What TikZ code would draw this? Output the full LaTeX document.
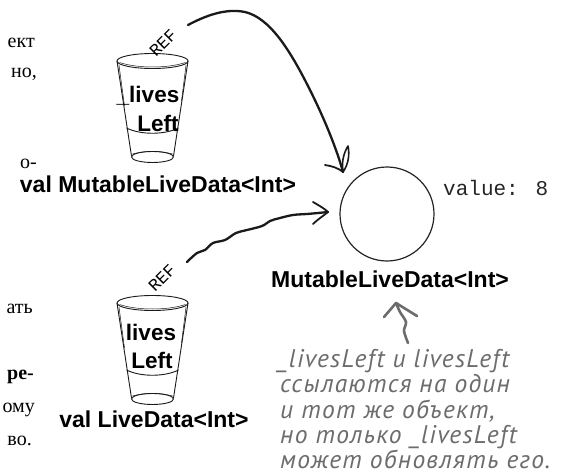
\documentclass[tikz,border=0pt]{standalone}
\usepackage{fontspec}
\setmainfont{Liberation Serif}
\newfontfamily\labelsans{Liberation Sans}
\newfontfamily\typewriter{Liberation Mono}
\newfontfamily\scribble{PT Sans}[LetterSpace=5]
\definecolor{notegray}{HTML}{6C6C6C}
\definecolor{inkblack}{HTML}{1A1A1A}

\tikzset{
  typelabel/.style={font=\labelsans\bfseries\fontsize{23}{26}\selectfont, inner sep=0pt, anchor=base},
  varname/.style={font=\labelsans\bfseries\fontsize{22.5}{26}\selectfont, inner sep=0pt, anchor=base},
  reftag/.style={font=\typewriter\fontsize{17}{17}\selectfont, inner sep=0pt, rotate=45},
  columntext/.style={font=\fontsize{20}{22}\selectfont, inner sep=0pt, anchor=base east},
  notetext/.style={font=\scribble\itshape\fontsize{25.5}{27}\selectfont, text=notegray, inner sep=0pt, anchor=base west},
  valuetext/.style={font=\typewriter\fontsize{21}{22}\selectfont, inner sep=0pt, anchor=base west, text=black!85},
  wire/.style={draw=inkblack, line width=2.3pt, line cap=round, line join=round},
  glassline/.style={draw=inkblack, line width=0.9pt},
  sketchline/.style={draw=inkblack, line width=0.5pt},
  notearrow/.style={draw=notegray, line width=2.6pt, line cap=round, line join=round},
  glass/.pic={
    % rim, sides, liquid level and base of a drinking glass
    \draw[glassline] (0,0) ellipse [x radius=35.5, y radius=7.5];
    \draw[sketchline] (-33,1.5) .. controls (-15,7.5) and (15,7.5) .. (33,1.5);
    \draw[glassline] (-35.5,0) -- (-21,95);
    \draw[glassline] (35.5,0) -- (21,95);
    \draw[sketchline] (-33.5,4) -- (-28,45);
    \draw[sketchline] (33.5,4) -- (29,40);
    \draw[glassline] (-26,67) .. controls (-12,74) and (12,74) .. (26,67);
    \draw[glassline] (0,96) ellipse [x radius=21, y radius=5.5];
    \draw[sketchline] (-20,93) .. controls (-8,89.5) and (8,89.5) .. (20,93);
  }
}

\begin{document}
\begin{tikzpicture}[x=1pt,y=-1pt]
\useasboundingbox (0,0) rectangle (565,476);
\fill[white] (0,0) rectangle (565,476);

% fragments of the neighbouring text column
\node[columntext] (c1) at (35,48) {ект};
\node[columntext] (c2) at (37,78) {но,};
\node[columntext] (c3) at (37,168) {о-};
\node[columntext] (c4) at (33,313) {ать};
\node[columntext, font=\bfseries\fontsize{20}{22}\selectfont] (c5) at (34,379) {ре-};
\node[columntext] (c6) at (35,412) {ому};
\node[columntext] (c7) at (32,445) {во.};

% the two reference variables
\coordinate (rimA) at (152.5,61);
\coordinate (rimB) at (152.5,303);
\pic at (rimA) {glass};
\pic at (rimB) {glass};
\node[reftag] (refTagA) at (163,43) {REF};
\node[reftag] (refTagB) at (162,278) {REF};
\node[varname] (varA1) at (148,103) {\_lives};
\node[varname] (varA2) at (158,132) {Left};
\node[varname] (varB1) at (151,340) {lives};
\node[varname] (varB2) at (152,368) {Left};
\node[typelabel] (typeA) at (158,192) {val MutableLiveData<Int>};
\node[typelabel] (typeB) at (154,427) {val LiveData<Int>};

% the shared object
\node[circle, draw=black!85, line width=1.2pt, minimum size=94pt, inner sep=0pt] (obj) at (387,214) {};
\node[valuetext] (val) at (443,195) {value: 8};
\node[typelabel] (typeObj) at (390,287) {MutableLiveData<Int>};

% reference from _livesLeft
\coordinate (refA) at (188,25);
\coordinate (tipA) at (343,172);
\draw[wire] (refA) .. controls (205,16) and (225,8) .. (245,12)
  .. controls (270,18) and (290,50) .. (310,90)
  .. controls (325,120) and (337,150) .. (tipA);
\draw[wire, line width=1.8pt] (325,165) .. controls (332,166) and (338,168) .. (tipA);
\draw[wire, line width=1.6pt] (tipA) .. controls (341,160) and (345,151) .. (348,146)
  .. controls (350,155) and (348,165) .. (tipA);

% reference from livesLeft
\coordinate (refB) at (187,262);
\coordinate (tipB) at (328,212);
\draw[wire] plot[smooth, tension=0.6] coordinates {(refB) (197,253) (205,250) (213,243) (225,240) (236,233) (247,230) (262,226) (270,221) (280,218) (293,215) (307,214) (318,213) (tipB)};
\draw[wire, line width=1.8pt] (313,202) .. controls (320,206) and (325,209) .. (tipB)
  .. controls (323,216) and (317,220) .. (313,224);

% handwritten remark
\node[notetext] (n1) at (277,367) {\_livesLeft и livesLeft};
\node[notetext] (n2) at (280,392) {ссылаются на один};
\node[notetext] (n3) at (280,418) {и тот же объект,};
\node[notetext] (n4) at (280,443) {но только \_livesLeft};
\node[notetext] (n5) at (280,468) {может обновлять его.};
\coordinate (noteTail) at (408,343);
\coordinate (noteTip) at (396,303);
\draw[notearrow] plot[smooth] coordinates {(noteTail) (404,331) (406,322) (400,312) (noteTip)};
\draw[notearrow] (384,317) -- (noteTip) -- (417,316);
\end{tikzpicture}
\end{document}
